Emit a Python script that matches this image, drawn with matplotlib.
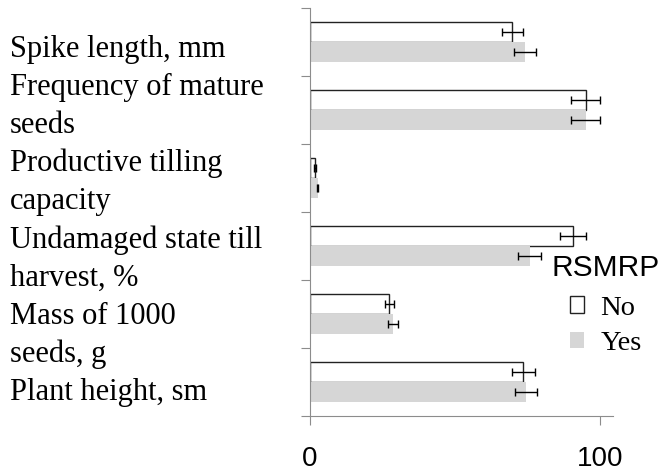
import numpy as np
import matplotlib
matplotlib.use("Agg")
from matplotlib import pyplot as plt
from matplotlib.patches import Patch

categories = [
    "Spike length, mm",
    "Frequency of mature\nseeds",
    "Productive tilling\ncapacity",
    "Undamaged state till\nharvest, %",
    "Mass of 1000\nseeds, g",
    "Plant height, sm",
]
no_vals = [69.7, 95.1, 1.8, 90.6, 27.4, 73.6]
no_err = [3.6, 5.0, 0.3, 4.5, 1.4, 3.9]
yes_vals = [74.1, 95.1, 2.6, 75.8, 28.6, 74.4]
yes_err = [3.8, 5.0, 0.3, 3.9, 1.6, 3.8]
series_names = ["No", "Yes"]
legend_title = "RSMRP"

AXIS = "#8c8c8c"
GRAY = "#d6d6d6"

fig = plt.figure(figsize=(6.65, 4.74), dpi=100)
ax = fig.add_axes([310 / 665, 58 / 474, 303 / 665, 408 / 474])

y = np.arange(len(categories))
h = 0.29
ax.barh(y - h / 2, no_vals, height=h, color="white", edgecolor="#222222",
        linewidth=1.0, xerr=no_err,
        error_kw=dict(ecolor="black", elinewidth=1.0, capsize=2.8, capthick=1.0))
ax.barh(y + h / 2, yes_vals, height=h, color=GRAY, edgecolor="none",
        xerr=yes_err,
        error_kw=dict(ecolor="black", elinewidth=1.0, capsize=2.8, capthick=1.0))

ax.set_xlim(0, 104.5)
ax.set_ylim(len(categories) - 0.5, -0.5)
ax.set_xticks([0, 100])
ax.set_yticks(np.arange(len(categories) + 1) - 0.5)
ax.set_yticklabels([])
ax.tick_params(axis="both", color=AXIS, length=6.5, width=0.8, direction="out")
ax.tick_params(axis="x", pad=15, labelsize=20)
for lab in ax.get_xticklabels():
    lab.set_fontfamily("Liberation Sans")
for s in ["top", "right"]:
    ax.spines[s].set_visible(False)
for s in ["left", "bottom"]:
    ax.spines[s].set_color(AXIS)
    ax.spines[s].set_linewidth(0.8)

# category names as one left-aligned column
fig.text(10 / 665, 1 - 221 / 474, "\n".join(categories), ha="left", va="center",
         family="Liberation Serif", fontsize=22, linespacing=1.403)

handles = [Patch(facecolor="white", edgecolor="#222222", linewidth=1.0),
           Patch(facecolor=GRAY, edgecolor="none")]
leg = fig.legend(handles, series_names, title=legend_title, loc="upper left",
                 bbox_to_anchor=(526 / 665, 1 - 228 / 474), frameon=False,
                 handlelength=0.5, handleheight=0.5, handletextpad=0.56,
                 labelspacing=0.38, prop=dict(family="Liberation Serif", size=20.5),
                 title_fontproperties=dict(family="Liberation Sans", size=21.5))
leg._legend_box.sep = 10

fig.savefig("out.png", dpi=100)
